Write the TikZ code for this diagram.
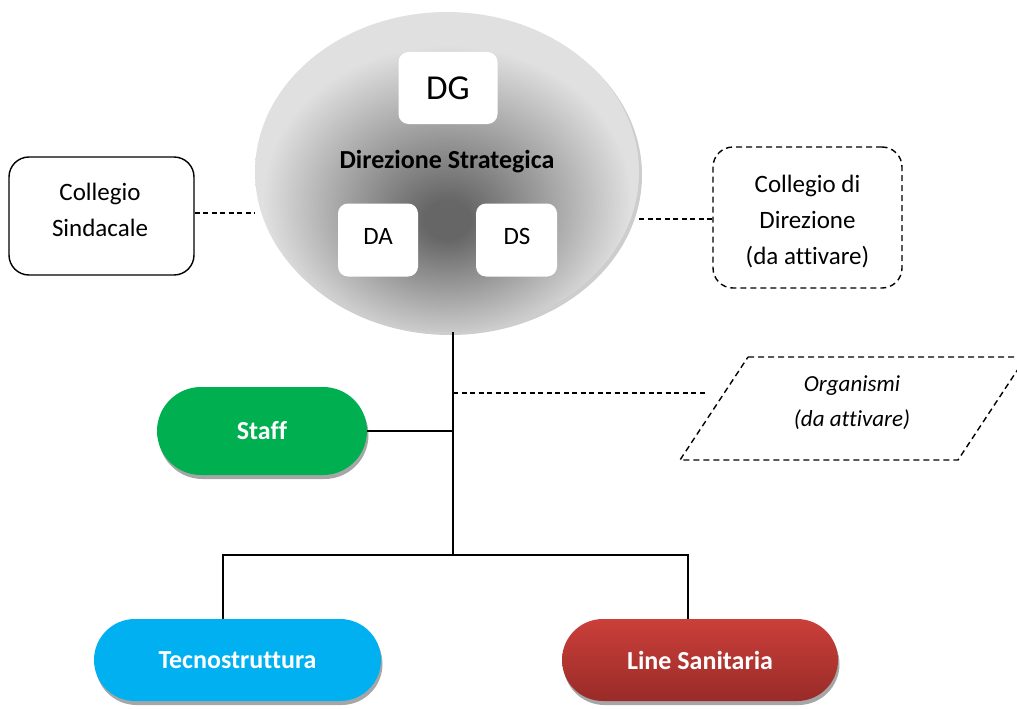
\documentclass[tikz,border=0pt]{standalone}
\usepackage{fontspec}
\setmainfont{Carlito}[Ligatures={NoCommon}]
\usetikzlibrary{shadows,shapes.geometric}
\definecolor{dk}{HTML}{666666}
\definecolor{lt}{HTML}{E0E0E0}
\definecolor{ltedge}{HTML}{DCDCDC}
\definecolor{staffgreen}{HTML}{00B050}
\definecolor{tecblue}{HTML}{00B0F0}
\definecolor{redtop}{HTML}{CB3F3A}
\definecolor{redbot}{HTML}{992B28}
\definecolor{shadowgray}{HTML}{A6A6A6}
\pgfdeclareradialshading{dirshade}{\pgfpoint{0bp}{-8bp}}{color(0bp)=(dk); color(3bp)=(dk); color(24bp)=(lt); color(40bp)=(lt); color(50bp)=(ltedge)}
\tikzset{
  conn/.style={line width=1.2pt, black},
  dconn/.style={line width=1.1pt, black, dash pattern=on 5pt off 3.5pt},
  whitebox/.style={fill=white, rounded corners=10pt, inner sep=0pt},
  sidebox/.style={draw=black, line width=1.4pt, rounded corners=20pt, inner sep=0pt},
  sidetext/.style={align=center, inner sep=0pt, font=\fontsize{25}{36}\selectfont},
  pill/.style={rounded corners=41pt, inner sep=0pt, text=white, font=\fontsize{26}{30}\selectfont\bfseries,
     drop shadow={shadow xshift=1.5pt, shadow yshift=-4pt, fill=shadowgray, opacity=1}},
}
\begin{document}
\begin{tikzpicture}[x=1pt, y=-1pt]
\useasboundingbox (0,0) rectangle (1017,709);

% Direzione strategica ellipse
\node[ellipse, minimum width=384pt, minimum height=320pt, inner sep=0pt, shading=dirshade,
      drop shadow={shadow xshift=3pt, shadow yshift=-3pt, fill=lt!80!gray, opacity=1}] (ell) at (447,172) {};
\node[whitebox, minimum width=99pt, minimum height=72pt, font=\fontsize{35}{40}\selectfont] (dg) at (448,88) {DG};
\node[font=\fontsize{26}{30}\selectfont\bfseries] (dslabel) at (447,162) {Direzione Strategica};
\node[whitebox, minimum width=80pt, minimum height=73pt] (da) at (378,240) {};
\node[font=\fontsize{25}{30}\selectfont] (datext) at (378,236) {DA};
\node[whitebox, minimum width=81pt, minimum height=73pt] (ds) at (516.5,240) {};
\node[font=\fontsize{25}{30}\selectfont] (dstext) at (517,236) {DS};

% side boxes
\node[sidebox, minimum width=185pt, minimum height=118pt] (cs) at (101.5,216) {};
\node[sidetext] (cstext) at (100,210) {Collegio\\Sindacale};
\node[sidebox, dash pattern=on 6pt off 4pt, minimum width=189pt, minimum height=141pt] (cd) at (807.5,217.5) {};
\node[sidetext] (cdtext) at (807.5,221.5) {Collegio di\\Direzione\\(da attivare)};

% Organismi parallelogram
\coordinate (p1) at (748,357);
\coordinate (p2) at (1026,357);
\coordinate (p3) at (958,460);
\coordinate (p4) at (680,460);
\draw[line width=1.4pt, dash pattern=on 6pt off 4pt] (p1) -- (p2) -- (p3) -- (p4) -- cycle;
\node[align=center, font=\fontsize{23}{35}\selectfont\itshape] (org) at (852,402.5) {Organismi\\(da attivare)};

% pills
\node[pill, fill=staffgreen, minimum width=210pt, minimum height=88pt, rounded corners=44pt] (st) at (262,431) {Staff};
\node[pill, fill=tecblue, minimum width=287pt, minimum height=82pt] (tec) at (237.5,660) {Tecnostruttura};
\node[pill, top color=redtop, bottom color=redbot, minimum width=276pt, minimum height=82pt] (ls) at (700,660) {Line Sanitaria};

% connectors
\coordinate (j) at (453,555);
\coordinate (tl) at (223,555);
\coordinate (tr) at (688,555);
\coordinate (oe) at (707,393);
\draw[dconn] ([yshift=3pt]cs.east) -- ([yshift=3pt]cs.east -| ell.west);
\draw[dconn] ([yshift=-1.5pt]cd.west) -- ([yshift=-1.5pt]cd.west -| ell.east);
\draw[conn] (j |- ell.south) -- (j);
\draw[conn] (st.east) -- (st.east -| j);
\draw[dconn] (oe -| j) -- (oe);
\draw[conn] (tl |- tec.north) -- (tl) -- (tr) -- (tr |- ls.north);
\end{tikzpicture}
\end{document}
